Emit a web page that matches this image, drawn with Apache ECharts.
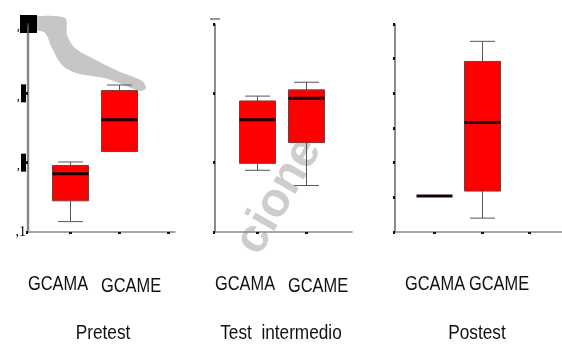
<!DOCTYPE html>
<html>
<head>
<meta charset="utf-8">
<script src="https://cdn.jsdelivr.net/npm/echarts@6/dist/echarts.min.js"></script>
<style>
  html, body { margin: 0; padding: 0; background: #fff; }
  #chart { width: 562px; height: 345px; }
</style>
</head>
<body>
<div id="chart"></div>
<script>
// groups and categories
const phases = ['Pretest', 'Test  intermedio', 'Postest'];
const categories = ['GCAMA', 'GCAME'];

// [min, Q1, median, Q3, max]
const pretestGCAMA = [0.115, 0.145, 0.184, 0.196, 0.201];
const pretestGCAME = [0.216, 0.216, 0.262, 0.304, 0.312];
const intermedioGCAMA = [0.189, 0.199, 0.262, 0.289, 0.296];
const intermedioGCAME = [0.167, 0.229, 0.293, 0.305, 0.316];
const postestGCAMA = [0.152, 0.152, 0.152, 0.152, 0.152];
const postestGCAME = [0.120, 0.159, 0.258, 0.346, 0.375];

const yTicksWide = [0.1, 0.4, 0.1];   // min, max, interval
const yTicksFine = [0.1, 0.4, 0.05];

const panelData = [
  [pretestGCAMA, pretestGCAME],
  [intermedioGCAMA, intermedioGCAME],
  [postestGCAMA, postestGCAME]
];

// layout per panel
const panels = [
  {left: 28, width: 147, xMin: 0.143, xMax: 3.143, ticks: [1, 2, 3], y: yTicksWide, labels: true},
  {left: 215, width: 137, xMin: 0.143, xMax: 2.94, ticks: [1, 2], y: yTicksWide, labels: false},
  {left: 395, width: 167, xMin: 0.179, xMax: 3.68, ticks: [1, 2, 3], y: yTicksFine, labels: false}
];
const catLabelPos = [[58, 284, 131, 286], [245, 284, 318, 286], [435, 284, 499, 284]];
const phaseLabelX = [103, 281, 477];

const myChart = echarts.init(document.getElementById('chart'));

function renderBox(params, api) {
  const x = api.value(0);
  const yMin = api.coord([x, api.value(1)])[1];
  const yQ1 = api.coord([x, api.value(2)])[1];
  const p = api.coord([x, api.value(3)]);
  const yQ3 = api.coord([x, api.value(4)])[1];
  const yMax = api.coord([x, api.value(5)])[1];
  const cx = Math.round(p[0]) + 0.5;
  const hw = 18, cw = 12.5;
  const whisker = {stroke: '#555', lineWidth: 1};
  const children = [];
  if (yMax < yQ3 - 0.5) {
    children.push({type: 'line', shape: {x1: cx, y1: yQ3, x2: cx, y2: yMax}, style: whisker});
    children.push({type: 'line', shape: {x1: cx - cw, y1: yMax, x2: cx + cw, y2: yMax}, style: whisker});
  }
  if (yMin > yQ1 + 0.5) {
    children.push({type: 'line', shape: {x1: cx, y1: yQ1, x2: cx, y2: yMin}, style: whisker});
    children.push({type: 'line', shape: {x1: cx - cw, y1: yMin, x2: cx + cw, y2: yMin}, style: whisker});
  }
  if (yQ1 - yQ3 > 0.5) {
    children.push({
      type: 'rect',
      shape: {x: cx - hw, y: yQ3, width: hw * 2, height: yQ1 - yQ3},
      style: {fill: '#ff0000', stroke: '#8a3535', lineWidth: 1}
    });
  }
  children.push({
    type: 'line',
    shape: {x1: cx - hw, y1: p[1], x2: cx + hw, y2: p[1]},
    style: {stroke: '#1a0000', lineWidth: 3}
  });
  return {type: 'group', children: children};
}

const grid = [], xAxis = [], yAxis = [], series = [];
panels.forEach((pn, i) => {
  grid.push({left: pn.left, top: 24, width: pn.width, height: 208, outerBoundsMode: 'none'});
  xAxis.push({
    type: 'value', gridIndex: i, min: pn.xMin, max: pn.xMax,
    axisLine: {show: true, onZero: false, lineStyle: {color: '#888', width: 1.5}},
    axisTick: {show: true, customValues: pn.ticks, length: 2, lineStyle: {color: '#111', width: 3}},
    axisLabel: {show: false},
    splitLine: {show: false}
  });
  yAxis.push({
    type: 'value', gridIndex: i, min: pn.y[0], max: pn.y[1], interval: pn.y[2],
    axisLine: {show: true, lineStyle: {color: '#666', width: 1.5}},
    axisTick: {show: true, length: 2, lineStyle: {color: '#111', width: 3}},
    splitLine: {show: false},
    axisLabel: {
      show: pn.labels,
      margin: 2,
      formatter(v) {
        const d = Math.round(v * 10);
        return d === 1 ? '{n|,1}' : '{c|,}{b|' + d + '}';
      },
      rich: {
        c: {fontSize: 13, color: '#000', fontFamily: 'Liberation Serif', padding: [6, 1, 0, 0]},
        b: {backgroundColor: '#000', color: '#000', width: 5, height: 18, fontSize: 9},
        n: {fontSize: 14, color: '#000', fontFamily: 'Liberation Serif'}
      }
    }
  });
  series.push({
    type: 'custom',
    xAxisIndex: i,
    yAxisIndex: i,
    renderItem: renderBox,
    encode: {x: 0, y: [1, 2, 3, 4, 5]},
    data: panelData[i].map((v, k) => [k + 1].concat(v)),
    z: 5
  });
});

const textStyle = (t) => ({
  text: t, fontFamily: 'Liberation Sans', fontSize: 20, fill: '#111',
  align: 'center', verticalAlign: 'middle', textAlign: 'center', textVerticalAlign: 'middle'
});
const graphic = [
  // scan artefacts: grey swoosh and watermark
  {
    type: 'polygon', z: -10, silent: true,
    shape: {
      smooth: 0.3,
      points: [[29, 18], [65, 18], [67, 35], [75, 48], [92, 58], [118, 71], [142, 81], [146, 88],
        [140, 91], [108, 79], [76, 73], [62, 65], [52, 48], [45, 33], [35, 30], [29, 29]]
    },
    style: {fill: '#c6c6c6'}
  },
  {type: 'rect', z: -10, silent: true, shape: {x: 26, y: 30, width: 4, height: 200}, style: {fill: '#e6e6e6'}},
  {type: 'rect', z: -5, silent: true, shape: {x: 20, y: 15, width: 17, height: 18}, style: {fill: '#000'}},
  {type: 'line', silent: true, shape: {x1: 210, y1: 19, x2: 220, y2: 19}, style: {stroke: '#333', lineWidth: 1}},
  {
    type: 'text', z: -10, silent: true, x: 279, y: 196, rotation: Math.PI / 3,
    style: {
      text: 'cione', fontFamily: 'Liberation Sans', fontWeight: 'bold', fontSize: 48, fill: '#cdcdcd',
      align: 'center', verticalAlign: 'middle', textAlign: 'center', textVerticalAlign: 'middle'
    }
  }
];
catLabelPos.forEach((pos) => {
  categories.forEach((c, k) => {
    graphic.push({type: 'text', x: pos[k * 2], y: pos[k * 2 + 1], scaleX: 0.82, style: textStyle(c)});
  });
});
phases.forEach((ph, i) => {
  const st = textStyle(ph);
  st.fontSize = 21;
  graphic.push({type: 'text', x: phaseLabelX[i], y: 333, scaleX: 0.82, style: st});
});

myChart.setOption({
  backgroundColor: '#fff',
  animation: false,
  grid: grid,
  xAxis: xAxis,
  yAxis: yAxis,
  series: series,
  graphic: graphic
});
</script>
</body>
</html>
